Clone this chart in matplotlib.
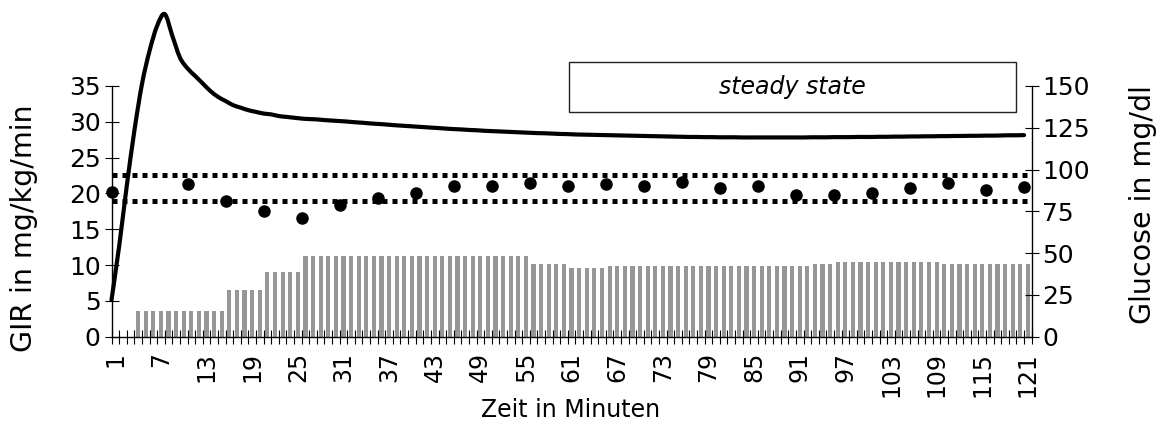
import matplotlib
matplotlib.use("Agg")
import matplotlib.pyplot as plt
from matplotlib.patches import Rectangle, PathPatch
from matplotlib.path import Path

plt.rcParams["font.family"] = ["DejaVu Sans"]

# Minute index of each infusion interval
minutes = list(range(1, 122))

# Glucose infusion rate (mg/kg/min) per minute
gir = [
    0, 0, 0, 3.6, 3.6, 3.6, 3.6, 3.6, 3.6, 3.6,
    3.6, 3.6, 3.6, 3.6, 3.6, 6.5, 6.5, 6.5, 6.5, 6.5,
    9.0, 9.0, 9.0, 9.0, 9.0, 11.3, 11.3, 11.3, 11.3, 11.3,
    11.3, 11.3, 11.3, 11.3, 11.3, 11.3, 11.3, 11.3, 11.3, 11.3,
    11.3, 11.3, 11.3, 11.3, 11.3, 11.3, 11.3, 11.3, 11.3, 11.3,
    11.3, 11.3, 11.3, 11.3, 11.3, 10.1, 10.1, 10.1, 10.1, 10.1,
    9.6, 9.6, 9.6, 9.6, 9.6, 9.85, 9.85, 9.85, 9.85, 9.85,
    9.85, 9.85, 9.85, 9.85, 9.85, 9.85, 9.85, 9.85, 9.85, 9.85,
    9.85, 9.85, 9.85, 9.85, 9.85, 9.85, 9.85, 9.85, 9.85, 9.85,
    9.85, 9.85, 10.15, 10.15, 10.15, 10.4, 10.4, 10.4, 10.4, 10.4,
    10.4, 10.4, 10.4, 10.4, 10.4, 10.4, 10.4, 10.4, 10.4, 10.15,
    10.15, 10.15, 10.15, 10.15, 10.15, 10.15, 10.15, 10.15, 10.15, 10.15,
    10.15,
]

# Continuous trace (mg/dl) per minute
trace = [
    22, 54, 90, 123, 151, 171, 186, 193, 180, 167,
    160.5, 156, 151.5, 147, 143.5, 141, 138.5, 137, 135.5, 134.5,
    133.5, 133, 132, 131.5, 131, 130.5, 130.2, 130, 129.6, 129.3,
    129, 128.7, 128.3, 128, 127.6, 127.3, 127, 126.6, 126.3, 126,
    125.7, 125.4, 125.1, 124.8, 124.5, 124.2, 124, 123.7, 123.5, 123.2,
    123, 122.8, 122.6, 122.4, 122.2, 122, 121.8, 121.7, 121.5, 121.3,
    121.2, 121, 120.9, 120.8, 120.7, 120.6, 120.5, 120.4, 120.3, 120.2,
    120.1, 120, 119.9, 119.8, 119.7, 119.6, 119.5, 119.5, 119.4, 119.4,
    119.3, 119.3, 119.3, 119.2, 119.2, 119.2, 119.2, 119.2, 119.2, 119.2,
    119.2, 119.2, 119.3, 119.3, 119.3, 119.4, 119.4, 119.4, 119.5, 119.5,
    119.5, 119.6, 119.6, 119.7, 119.7, 119.8, 119.8, 119.9, 119.9, 120,
    120, 120.1, 120.1, 120.2, 120.2, 120.3, 120.3, 120.4, 120.5, 120.5,
    120.6,
]

# Blood glucose samples (mg/dl)
sample_minutes = [1, 11, 16, 21, 26, 31, 36, 41, 46, 51, 56, 61,
                  66, 71, 76, 81, 86, 91, 96, 101, 106, 111, 116, 121]
glucose = [86.7, 91.3, 81.1, 75.3, 70.8, 78.7, 82.7, 85.7, 90.1, 90.1, 92.1, 90.1,
           91.1, 90.1, 92.6, 88.7, 90.1, 84.7, 84.7, 85.7, 88.7, 92.1, 87.7, 89.3]

# Target band (mg/dl)
band_low = 81
band_high = 97

tick_minutes = list(range(1, 122, 6))
left_ticks = [0, 5, 10, 15, 20, 25, 30, 35]
right_ticks = [0, 25, 50, 75, 100, 125, 150]


def smooth_path(xs, ys):
    """Cubic Bezier path through the points (Catmull-Rom style tangents)."""
    pts = list(zip(xs, ys))
    n = len(pts)
    verts = [pts[0]]
    codes = [Path.MOVETO]
    for i in range(n - 1):
        p0 = pts[i - 1] if i > 0 else pts[i]
        p1 = pts[i]
        p2 = pts[i + 1]
        p3 = pts[i + 2] if i + 2 < n else pts[i + 1]
        c1 = (p1[0] + (p2[0] - p0[0]) / 6, p1[1] + (p2[1] - p0[1]) / 6)
        c2 = (p2[0] - (p3[0] - p1[0]) / 6, p2[1] - (p3[1] - p1[1]) / 6)
        verts += [c1, c2, p2]
        codes += [Path.CURVE4] * 3
    return Path(verts, codes)


FS = 17
FS_TICK = 18
FS_YLAB = 20.5
fig = plt.figure(figsize=(11.64, 4.36), dpi=100)
ax = fig.add_axes([0.0958, 0.2278, 0.7905, 0.575])
ax2 = ax.twinx()

ax.bar(minutes, gir, width=0.55, color="#969696", zorder=1)
ax.set_xlim(0.5, 121.5)
ax.set_ylim(0, 35)
ax2.set_ylim(0, 150)

# band limits
for lvl in (band_low, band_high):
    ax2.plot([0.5, 121.5], [lvl, lvl], color="black", lw=3.6,
             linestyle=(0, (1, 1)), dash_capstyle="butt", zorder=3)

line_x = [m - 0.5 for m in minutes]
curve = PathPatch(smooth_path(line_x, trace), fill=False, edgecolor="black", lw=3.0,
                  capstyle="round", joinstyle="round", transform=ax2.transData,
                  clip_on=False, zorder=4)
ax2.add_patch(curve)

dot_x = [m - 0.5 for m in sample_minutes]
ax2.plot(dot_x, glucose, "o", color="black", markersize=8, clip_on=False, zorder=5)

# ticks
ax.set_xticks(tick_minutes)
ax.set_xticklabels([str(t) for t in tick_minutes], rotation=90, fontsize=FS_TICK - 1)
ax.set_xticks([m + 0.5 for m in range(0, 122)], minor=True)
ax.tick_params(axis="x", which="major", length=0, pad=11)
ax.tick_params(axis="x", which="minor", direction="inout", length=9.5, width=0.8)
ax.set_yticks(left_ticks)
ax.tick_params(axis="y", direction="inout", length=9.5, width=0.8, labelsize=FS_TICK, pad=3)
ax2.set_yticks(right_ticks)
ax2.tick_params(axis="y", direction="inout", length=9.5, width=0.8, labelsize=FS_TICK, pad=3)

for a in (ax, ax2):
    a.spines["top"].set_visible(False)
    for s in ("left", "right", "bottom"):
        a.spines[s].set_linewidth(1.0)
        a.spines[s].set_color("black")
ax.spines["right"].set_visible(False)
ax2.spines["left"].set_visible(False)
ax2.spines["bottom"].set_visible(False)

fig.text(0.0205, 0.476, "GIR in mg/kg/min", rotation=90, ha="center", va="center", fontsize=FS_YLAB)
fig.text(0.982, 0.53, "Glucose in mg/dl", rotation=90, ha="center", va="center", fontsize=FS_YLAB)
fig.text(0.49, 0.06, "Zeit in Minuten", ha="center", va="center", fontsize=FS)

# steady state marker
box = Rectangle((0.4975, 0.8975), 0.4851, 0.197, transform=ax.transAxes,
                facecolor="white", edgecolor="#222222", lw=1.0, clip_on=False, zorder=6)
ax.add_patch(box)
ax2.text(0.74, 0.996, "steady state", transform=ax.transAxes, ha="center", va="center",
         fontsize=FS, style="italic", zorder=7)

fig.savefig("out.png", dpi=100)
